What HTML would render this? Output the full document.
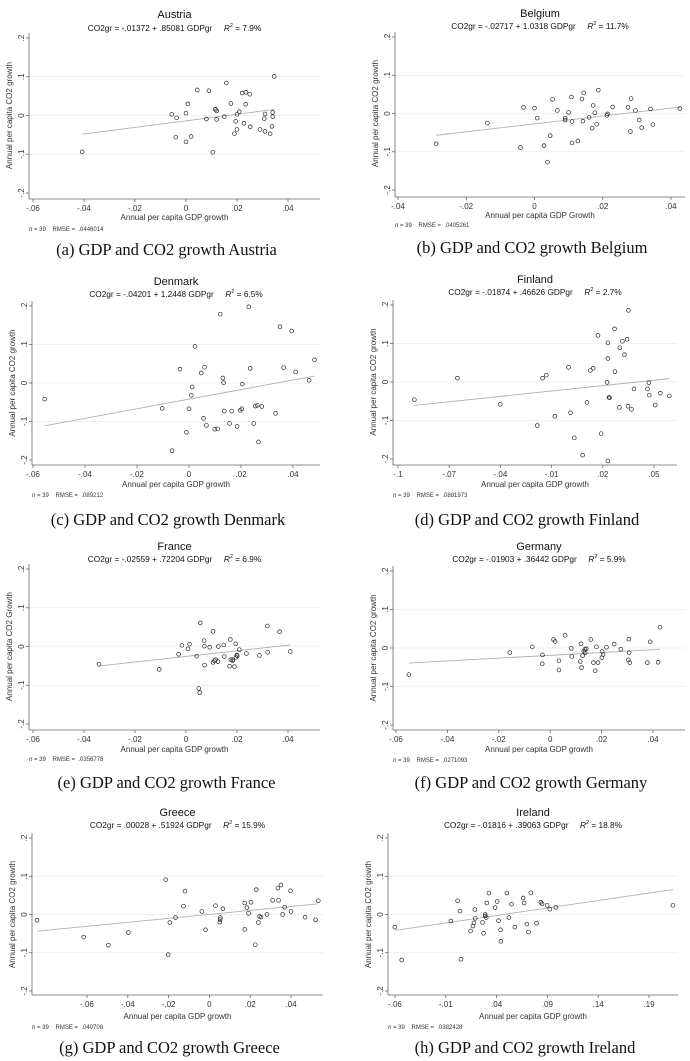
<!DOCTYPE html>
<html><head><meta charset="utf-8"><style>
html,body{margin:0;padding:0;background:#fff;}
svg{display:block;}
text{white-space:pre;}
</style></head><body>
<svg id="fig" width="690" height="1061" viewBox="0 0 690 1061" xmlns="http://www.w3.org/2000/svg"></svg>
<script>
// ---- data ----
const austriaX=[-.0407,-.0056,-.0037,-.004,0,0,.0007,.002,.0044,.008,.009,.0105,.0116,.012,.012,.015,.0158,.0176,.0195,.019,.02,.020,.0209,.022,.0227,.0235,.0234,.025,.0252,.029,.031,.0307,.031,.033,.0337,.034,.034,.0346,.0115];
const austriaY=[-.094,.003,-.006,-.056,.006,-.068,.030,-.054,.066,-.009,.064,-.095,.016,.012,-.010,-.003,.084,.031,-.015,-.047,.003,-.036,.010,.058,-.020,.060,.029,.055,-.029,-.036,.004,-.008,-.041,-.047,-.028,.008,-.003,.101,.016];
const belgiumX=[-.0288,-.0138,-.0041,-.0032,0,.0008,.0028,.0038,.0046,.0053,.0067,.009,.009,.010,.0108,.011,.011,.0127,.0139,.0142,.0144,.016,.0169,.0172,.0177,.0182,.0187,.0212,.0214,.0229,.0274,.0281,.0283,.0296,.0307,.0314,.034,.0347,.0426];
const belgiumY=[-.079,-.025,-.089,.016,.014,-.012,-.084,-.127,-.058,.037,.008,-.012,-.017,.003,.043,-.021,-.077,-.072,.038,-.020,.054,-.010,-.038,.021,.002,-.028,.061,-.005,-.001,.017,.016,-.047,.039,.008,-.017,-.037,.012,-.029,.013];
const denmarkX=[-.0555,-.0103,-.0065,-.0035,-.001,0,.0009,.0012,.0023,.0047,.0056,.006,.0067,.0099,.011,.012,.013,.0133,.0136,.0156,.0164,.0185,.0197,.0203,.0205,.023,.0235,.0249,.0255,.0263,.0267,.028,.0333,.035,.0364,.0395,.041,.0462,.0483];
const denmarkY=[-.042,-.066,-.176,.036,-.128,-.067,-.032,-.010,.095,.026,-.092,.041,-.110,-.120,-.119,.179,.013,.001,-.073,-.105,-.073,-.113,-.071,-.067,-.003,.198,.038,-.105,-.060,-.058,-.153,-.061,-.079,.146,.040,.135,.029,.007,.060];
const finlandX=[-.0904,-.0652,-.0401,-.0184,-.0153,-.0131,-.0081,-.0001,.0011,.0033,.0082,.0107,.0127,.0144,.0172,.019,.0225,.023,.023,.023,.0236,.024,.0269,.0271,.0297,.030,.0315,.0327,.0342,.0348,.035,.0368,.0383,.0462,.047,.0472,.0507,.0537,.059];
const finlandY=[-.046,.010,-.058,-.113,.010,.018,-.089,.038,-.080,-.145,-.190,-.053,.030,.036,.121,-.134,-.001,.061,.102,-.205,-.040,-.041,.138,.027,-.066,.089,.106,.071,.111,-.063,.186,-.071,-.018,-.018,-.002,-.034,-.060,-.029,-.036];
const franceX=[-.0341,-.0105,-.0029,-.0016,.0008,.0014,.0042,.005,.0054,.0056,.0071,.0072,.0073,.0093,.0106,.0106,.0112,.0116,.0125,.0127,.0148,.015,.0171,.0174,.0176,.0183,.0183,.019,.0195,.0196,.0199,.0201,.0209,.0237,.0288,.0319,.032,.0367,.0409];
const franceY=[-.046,-.059,-.020,.003,-.006,.006,-.025,-.108,-.119,.061,.015,.001,-.048,-.002,.039,-.041,-.037,-.034,-.039,0,.004,-.026,-.051,.018,-.034,-.034,-.037,-.052,.007,-.028,-.022,-.024,-.008,-.018,-.023,.053,-.015,.038,-.013];
const germanyX=[-.055,-.0157,-.007,-.003,-.0031,.0013,.0019,.0034,.0034,.0058,.0082,.0084,.0117,.012,.0122,.0126,.0131,.0135,.0136,.014,.0158,.0168,.0175,.018,.0186,.0201,.0202,.0206,.0219,.0249,.0275,.0306,.0307,.0304,.031,.0378,.0389,.042,.0427];
const germanyY=[-.069,-.012,.003,-.018,-.041,.022,.017,-.033,-.057,.033,-.001,-.022,-.035,.011,-.051,-.020,-.008,-.003,-.012,-.002,.022,-.038,-.059,.003,-.038,-.025,-.009,-.017,.002,.010,-.003,.023,-.012,-.031,-.038,-.038,.016,-.037,.054];
const greeceX=[-.0845,-.0616,-.0495,-.0397,-.0214,-.0202,-.0194,-.0166,-.0127,-.012,-.0037,-.0019,.003,.0051,.0053,.0054,.0066,.0173,.0173,.0184,.0192,.0204,.0225,.023,.024,.0246,.0253,.0282,.031,.0336,.0339,.0351,.0359,.0369,.0398,.04,.0469,.0521,.0534];
const greeceY=[-.015,-.059,-.080,-.047,.091,-.105,-.021,-.008,.022,.061,.008,-.040,.023,-.020,-.013,-.008,.015,.030,-.039,.018,.003,.032,-.079,.065,-.021,-.005,-.007,0,.037,.069,.037,.077,0,.019,.062,.008,-.007,-.014,.036];
const irelandX=[-.0601,-.0534,-.0050,.0016,.0039,.0049,.0144,.0167,.0177,.0186,.019,.0262,.0272,.0288,.0288,.0298,.0304,.0324,.0386,.0406,.0419,.0439,.0442,.0501,.0521,.0547,.0580,.0661,.0671,.0698,.0714,.0737,.0793,.0835,.0848,.0897,.0924,.0983,.2136];
const irelandY=[-.033,-.119,-.017,.036,.009,-.117,-.043,-.030,-.022,.013,-.010,-.021,-.049,0,-.004,-.008,.030,.056,.018,.034,-.016,-.040,-.070,.056,-.008,.027,-.033,.043,.030,-.025,-.046,.057,-.023,.032,.028,.024,.014,.019,.024];
// fit coefficients
const intercepts=[-.01372,-.02717,-.04201,-.01874,-.02559,-.01903,.00028,-.01816];
const slopes=[.85081,1.0318,1.2448,.46626,.72204,.36442,.51924,.39063];
// tick labels
const yTickVals=[.2,.1,0,-.1,-.2];
const yTickLabels=[".2",".1","0","-.1","-.2"];
const xTicksA=[-.06,-.04,-.02,0,.02,.04];
const xTicksB=[-.04,-.02,0,.02,.04];
const xTicksD=[-.1,-.07,-.04,-.01,.02,.05];
const xTicksG=[-.06,-.04,-.02,0,.02,.04];
const xTicksH=[-.06,-.01,.04,.09,.14,.19];
function fmt(v){if(v===0)return "0";let s=Math.abs(v).toFixed(2).replace(/^0/,"");s=s.replace(/0$/,"");return (v<0?"-":"")+s;}

const panels=[
 {name:"austria",title:"Austria",eq:"CO2gr = -.01372 + .85081 GDPgr",r2:"7.9%",xt:"Annual per capita GDP growth",rmse:".0446014",cap:"(a) GDP and CO2 growth Austria",X:austriaX,Y:austriaY,ticks:xTicksA,
  ox:0,oy:0,t0:-.06,p0:33,t1:.04,p1:288,L:29,R:320,yT:38,yB:193,B:199,ti:14,eqy:28,xty:217,ny:229,cy:250},
 {name:"belgium",title:"Belgium",eq:"CO2gr = -.02717 + 1.0318 GDPgr",r2:"11.7%",xt:"Annual per capita GDP Growth",rmse:".0405261",cap:"(b) GDP and CO2 growth Belgium",X:belgiumX,Y:belgiumY,ticks:xTicksB,
  ox:345,oy:0,t0:-.04,p0:53,t1:.04,p1:326,L:50,R:340,yT:37,yB:190,B:197,ti:13,eqy:26,xty:215,ny:225,cy:248},
 {name:"denmark",title:"Denmark",eq:"CO2gr = -.04201 + 1.2448 GDPgr",r2:"6.5%",xt:"Annual per capita GDP growth",rmse:".089212",cap:"(c) GDP and CO2 growth Denmark",X:denmarkX,Y:denmarkY,ticks:xTicksA,
  ox:0,oy:265,t0:-.06,p0:33,t1:.04,p1:293,L:32,R:320,yT:41,yB:195,B:200,ti:16,eqy:29,xty:219,ny:230,cy:255},
 {name:"finland",title:"Finland",eq:"CO2gr = -.01874 + .46626 GDPgr",r2:"2.7%",xt:"Annual per capita GDP growth",rmse:".0881973",cap:"(d) GDP and CO2 growth Finland",X:finlandX,Y:finlandY,ticks:xTicksD,
  ox:345,oy:265,t0:-.1,p0:53,t1:.05,p1:309,L:48,R:332,yT:40,yB:194,B:200,ti:14,eqy:27,xty:219,ny:230,cy:255},
 {name:"france",title:"France",eq:"CO2gr = -.02559 + .72204 GDPgr",r2:"6.9%",xt:"Annual per capita GDP growth",rmse:".0356778",cap:"(e) GDP and CO2 growth France",X:franceX,Y:franceY,ticks:xTicksA,
  ox:0,oy:530,t0:-.06,p0:33,t1:.04,p1:288,L:29,R:320,yT:39,yB:194,B:200,ti:16,eqy:29,xty:219,ny:229,cy:253},
 {name:"germany",title:"Germany",eq:"CO2gr = -.01903 + .36442 GDPgr",r2:"5.9%",xt:"Annual per capita GDP growth",rmse:".0271093",cap:"(f) GDP and CO2 growth Germany",X:germanyX,Y:germanyY,ticks:xTicksA,
  ox:345,oy:530,t0:-.06,p0:51,t1:.04,p1:308,L:48,R:340,yT:41,yB:195,B:200,ti:16,eqy:29,xty:219,ny:230,cy:253},
 {name:"greece",title:"Greece",eq:"CO2gr = .00028 + .51924 GDPgr",r2:"15.9%",xt:"Annual per capita GDP growth",rmse:".040708",cap:"(g) GDP and CO2 growth Greece",X:greeceX,Y:greeceY,ticks:xTicksG,
  ox:0,oy:795,t0:-.06,p0:87,t1:.04,p1:291,L:32,R:323,yT:43,yB:196,B:200,ti:17,eqy:30,xty:221,ny:232,cy:253},
 {name:"ireland",title:"Ireland",eq:"CO2gr = -.01816 + .39063 GDPgr",r2:"18.8%",xt:"Annual per capita GDP growth",rmse:".0382428",cap:"(h) GDP and CO2 growth Ireland",X:irelandX,Y:irelandY,ticks:xTicksH,
  ox:345,oy:795,t0:-.06,p0:50,t1:.19,p1:304,L:43,R:333,yT:43,yB:196,B:200,ti:17,eqy:30,xty:221,ny:232,cy:253}
];
const NS="http://www.w3.org/2000/svg";
const svg=document.getElementById("fig");
function mk(tag,attrs,parent,text){const e=document.createElementNS(NS,tag);for(const k in attrs)e.setAttribute(k,attrs[k]);if(text!==undefined)e.textContent=text;parent.appendChild(e);return e;}
const SANS='"Liberation Sans", Arial, sans-serif';
panels.forEach((p,i)=>{
  const g=mk("g",{transform:`translate(${p.ox},${p.oy})`},svg);
  
  
  const xs=v=>p.p0+(v-p.t0)/(p.t1-p.t0)*(p.p1-p.p0);
  const ys=v=>p.yB+(v+0.2)/0.4*(p.yT-p.yB);
  const cx=(p.L+p.R)/2;
  const t=mk("text",{x:cx,y:p.ti+4,"text-anchor":"middle","font-family":SANS,"font-size":11,fill:"#111"},g,p.title);
  
  
  const eq=mk("text",{x:cx,y:p.eqy+3,"text-anchor":"middle","font-family":SANS,"font-size":8.3,fill:"#111"},g);
  
  
  mk("tspan",{},eq,p.eq+"     ");
  mk("tspan",{"font-style":"italic"},eq,"R");
  mk("tspan",{"font-size":5.5,dy:-4},eq,"2");
  mk("tspan",{dy:4},eq," = "+p.r2);
  [.1,0,-.1].forEach(v=>{const l=mk("line",{x1:p.L,x2:p.R,y1:ys(v),y2:ys(v),stroke:"#ececec","stroke-width":0.8},g);
    
    });
  const ya=mk("line",{x1:p.L,x2:p.L,y1:ys(.2)-5,y2:p.B,stroke:"#666","stroke-width":0.8},g);
  
  
  const xa=mk("line",{x1:p.L,x2:p.R,y1:p.B,y2:p.B,stroke:"#666","stroke-width":0.8},g);
  
  
  yTickVals.forEach((v,k)=>{
    const y=ys(v);
    mk("line",{x1:p.L-3,x2:p.L,y1:y,y2:y,stroke:"#666","stroke-width":0.8},g);
    const tl=mk("text",{x:0,y:0,transform:`translate(${p.L-5},${y}) rotate(-90)`,"text-anchor":"middle","font-family":SANS,"font-size":8,fill:"#333"},g,yTickLabels[k]);
    
    
  });
  p.ticks.forEach(v=>{
    const x=xs(v);
    mk("line",{x1:x,x2:x,y1:p.B,y2:p.B+3,stroke:"#666","stroke-width":0.8},g);
    const tl=mk("text",{x:x,y:p.B+12,"text-anchor":"middle","font-family":SANS,"font-size":8,fill:"#333"},g,fmt(v));
    
    
  });
  const yt=mk("text",{x:0,y:0,transform:`translate(${p.L-17},${(p.yT+p.yB)/2}) rotate(-90)`,"text-anchor":"middle","font-family":SANS,"font-size":8,fill:"#333"},g,i===4?"Annual per capita CO2 Growth":"Annual per capita CO2 growth");
  
  
  const xt=mk("text",{x:cx,y:p.xty+3,"text-anchor":"middle","font-family":SANS,"font-size":8,fill:"#333"},g,p.xt);
  
  
  const nt=mk("text",{x:p.L,y:p.ny+2,"font-family":SANS,"font-size":6,fill:"#333"},g);
  
  
  mk("tspan",{"font-style":"italic"},nt,"n");
  mk("tspan",{},nt," = 39    RMSE =  "+p.rmse);
  const xmin=Math.min(...p.X),xmax=Math.max(...p.X);
  const a=intercepts[i],b=slopes[i];
  const fl=mk("line",{x1:xs(xmin),y1:ys(a+b*xmin),x2:xs(xmax),y2:ys(a+b*xmax),stroke:"#b0b0b0","stroke-width":0.9},g);
  
  
  p.X.forEach((xv,k)=>{
    const c=mk("circle",{cx:xs(xv),cy:ys(p.Y[k]),r:1.9,fill:"none",stroke:"#2a2a2a","stroke-width":0.7},g);
    
    
  });
  const cap=mk("text",{x:cx-8,y:p.cy+5,"text-anchor":"middle","font-family":'"Liberation Serif", "DejaVu Serif", serif',"font-size":16.5,fill:"#111"},g,p.cap);
  
  
});
</script>
</body></html>
